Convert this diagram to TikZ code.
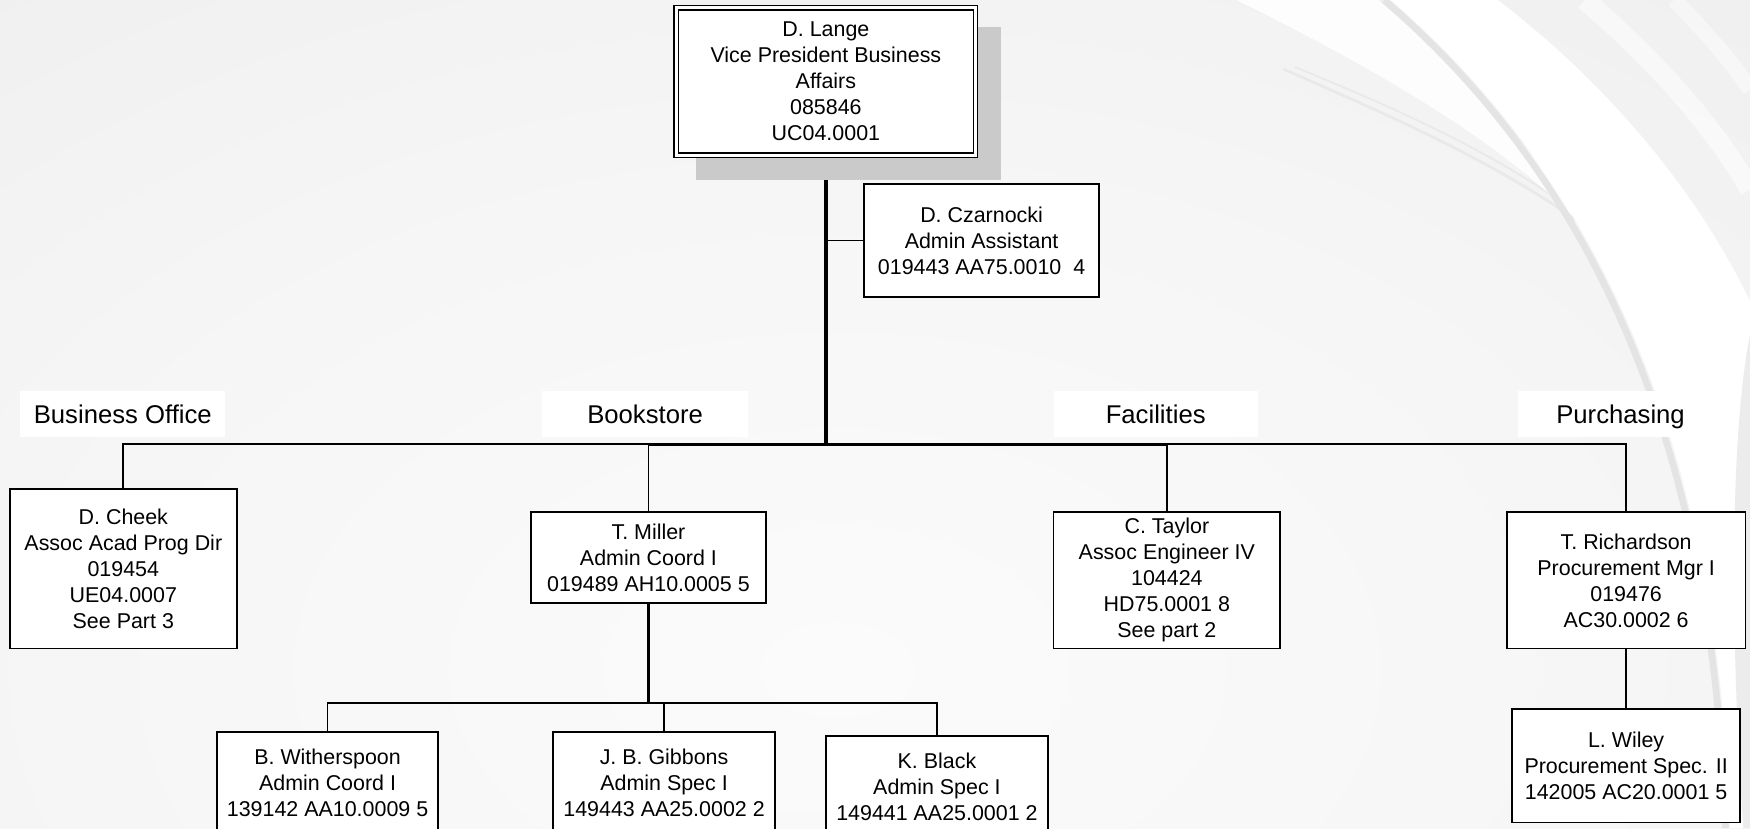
\documentclass[tikz,border=0pt]{standalone}
\usepackage{fontspec}
\setmainfont{Liberation Sans}
\definecolor{bgA}{HTML}{FBFBFB}
\definecolor{bgB}{HTML}{F6F6F6}
\definecolor{bgC}{HTML}{ECECEC}
\definecolor{bgD}{HTML}{E2E2E2}
\definecolor{shadowgray}{HTML}{CACACA}
\definecolor{stripegray}{HTML}{E4E4E4}
\definecolor{faintgray}{HTML}{E9E9E9}
\pgfdeclareradialshading{bgshade}{\pgfpoint{0bp}{0bp}}{color(0bp)=(bgA); color(12bp)=(bgB); color(28bp)=(bgC); color(45bp)=(bgD); color(50bp)=(bgD)}
\pgfdeclarelayer{bglayer}
\pgfdeclarelayer{lineslayer}
\pgfsetlayers{bglayer,lineslayer,main}
\tikzset{
  person/.style={draw=black, line width=0.8pt, fill=white, inner sep=0pt, align=center,
                 font=\fontsize{9.6}{11.65}\selectfont},
  dept/.style={fill=white, inner sep=0pt, text height=8.6pt, text depth=0pt,
               font=\fontsize{11.5}{13}\selectfont},
  conn/.style={line width=0.75pt},
  medline/.style={line width=0.95pt},
  trunkline/.style={line width=1.5pt},
}
\begin{document}
\begin{tikzpicture}[x=0.5pt, y=-0.5pt]
\useasboundingbox (0,0) rectangle (1568,742);
\clip (0,0) rectangle (1568,742);

% ---------- nodes ----------
\node[person, line width=0.6pt, double, double distance=1.4pt,
      minimum width=134pt, minimum height=66pt] (lange) at (740,73)
  {D. Lange\\Vice President Business\\Affairs\\085846\\UC04.0001};
\node[person, minimum width=105.5pt, minimum height=50.5pt] (czar) at (879.5,215.5)
  {D. Czarnocki\\Admin Assistant\\019443 AA75.0010\ \ 4};

\node[dept, minimum width=92pt, minimum height=20.5pt] (bo) at (110,371) {Business Office};
\node[dept, minimum width=92pt, minimum height=20.5pt] (book) at (578,371) {Bookstore};
\node[dept, minimum width=91.5pt, minimum height=20.5pt] (fac) at (1035.5,371) {Facilities};
\node[dept, minimum width=92pt, minimum height=20.5pt] (pur) at (1452,371) {Purchasing};

\node[person, minimum width=101.5pt, minimum height=71.5pt] (cheek) at (110.5,509.5)
  {D. Cheek\\Assoc Acad Prog Dir\\019454\\UE04.0007\\See Part 3};
\node[person, minimum width=105pt, minimum height=40.5pt] (miller) at (581,499.5)
  {T. Miller\\Admin Coord I\\019489 AH10.0005 5};
\node[person, minimum width=101.5pt, minimum height=61pt] (taylor) at (1045.5,520)
  {C. Taylor\\Assoc Engineer IV\\104424\\HD75.0001 8\\See part 2};
\node[person, minimum width=107pt, minimum height=61pt] (rich) at (1457,520)
  {T. Richardson\\Procurement Mgr I\\019476\\AC30.0002 6};
\node[person, minimum width=102pt, minimum height=51pt] (wiley) at (1457,686)
  {L. Wiley\\Procurement Spec. II\\142005 AC20.0001 5};

\node[person, minimum width=99pt, minimum height=45pt] (withe) at (293.5,701)
  {B. Witherspoon\\Admin Coord I\\139142 AA10.0009 5};
\node[person, minimum width=99.25pt, minimum height=45pt] (gib) at (595,701)
  {J. B. Gibbons\\Admin Spec I\\149443 AA25.0002 2};
\node[person, minimum width=99.5pt, minimum height=45.25pt] (black) at (839.5,705)
  {K. Black\\Admin Spec I\\149441 AA25.0001 2};

\coordinate (bus) at (740,398);
\coordinate (sub) at (581,630);

% ---------- connectors ----------
\begin{pgfonlayer}{lineslayer}
  \draw[trunkline] (lange.south) -- (bus);
  \draw[conn] (lange.south |- czar.west) -- (czar.west);
  \draw[trunkline] (miller.north |- bus) -- (taylor.north |- bus);
  \draw[conn] (cheek.north) |- (miller.north |- bus);
  \draw[conn] (miller.north) -- (miller.north |- bus);
  \draw[conn] (taylor.north) -- (taylor.north |- bus);
  \draw[conn] (taylor.north |- bus) -| (rich.north);
  \draw[medline] (miller.south) -- (sub);
  \draw[conn] (withe.north) |- (sub) -| (black.north);
  \draw[conn] (gib.north) -- (gib.north |- sub);
  \draw[medline] (rich.south) -- (wiley.north);
  % shadow of the top box
  \fill[shadowgray] (624,24) rectangle (897,161);
\end{pgfonlayer}

% ---------- background ----------
\begin{pgfonlayer}{bglayer}
  \shade[shading=bgshade] (-700,-300) rectangle (2200,1500);
  % faint thin stripes
  \draw[faintgray, line width=1.2pt] (1150,62) .. controls (1260,110) and (1350,150) .. (1430,210);
  \draw[faintgray, line width=0.8pt] (1160,60) .. controls (1270,105) and (1355,145) .. (1432,205);
  % top crescent
  \fill[white, opacity=0.9] (1108,0) .. controls (1260,75) and (1360,140) .. (1420,205)
     .. controls (1370,125) and (1300,55) .. (1235,0) -- cycle;
  % broad white band
  \fill[white] (1246,0) .. controls (1420,150) and (1540,380) .. (1550,742)
     -- (1568,742) -- (1568,270) .. controls (1520,170) and (1440,75) .. (1342,0) -- cycle;
  % gray sliver at right edge, lower part
  \fill[bgC] (1568,300) .. controls (1548,400) and (1552,600) .. (1562,742) -- (1568,742) -- cycle;
  % gray stripe along the band's left edge
  \draw[stripegray, line width=3pt] (1240,0) .. controls (1415,150) and (1535,380) .. (1546,742);
  % lighter stripes in the top-right corner
  \draw[white, opacity=0.55, line width=9pt] (1420,0) .. controls (1490,60) and (1540,120) .. (1568,170);
  \draw[white, opacity=0.45, line width=7pt] (1500,0) .. controls (1530,30) and (1555,60) .. (1568,80);
\end{pgfonlayer}
\end{tikzpicture}
\end{document}
